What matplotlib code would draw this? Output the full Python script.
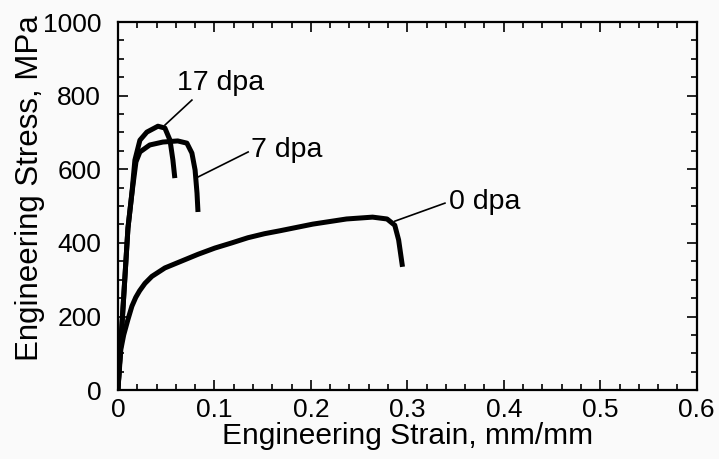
# Engineering stress-strain curves for three irradiation doses.

import matplotlib.pyplot as plt
from matplotlib.ticker import MultipleLocator

# 0 dpa
strain_0 = [0, 0.003, 0.006, 0.0104, 0.0145, 0.0185, 0.0225, 0.028, 0.0352, 0.0487,
            0.0663, 0.083, 0.1005, 0.118, 0.1347, 0.152, 0.168, 0.202, 0.237,
            0.264, 0.279, 0.287, 0.291, 0.295]
stress_0 = [0, 110, 150, 192, 228, 252, 270, 290, 309, 332,
            351, 369, 386, 400, 414, 425, 433, 451, 465,
            470, 465, 448, 408, 335]

# 7 dpa
strain_7 = [0, 0.0104, 0.0145, 0.0187, 0.0228, 0.033, 0.0466, 0.062, 0.0715,
            0.0767, 0.080, 0.082, 0.083]
stress_7 = [0, 440, 535, 620, 647, 666, 674, 677, 671, 644, 598, 535, 484]

# 17 dpa
strain_17 = [0, 0.0104, 0.0145, 0.0176, 0.0228, 0.030, 0.0415, 0.0487, 0.054,
             0.057, 0.059]
stress_17 = [0, 440, 535, 625, 679, 701, 717, 712, 679, 625, 576]

labels = ['0 dpa', '7 dpa', '17 dpa']
leader_start = [(0.287, 459), (0.083, 579), (0.0487, 720)]
leader_end = [(0.339, 508), (0.135, 647), (0.0767, 788)]
label_pos = [(0.343, 511), (0.1375, 652), (0.061, 834)]

plt.rcParams['font.family'] = ['Liberation Sans', 'DejaVu Sans']

def StressStrain():
    fig = plt.figure(figsize=(7.19, 4.59), dpi=100, facecolor='#fafafa')
    ax = fig.add_axes([0.164, 0.150, 0.805, 0.802])
    ax.set_facecolor('#fafafa')

    for x, y in [(strain_0, stress_0), (strain_7, stress_7), (strain_17, stress_17)]:
        ax.plot(x, y, color='black', lw=3.6, solid_capstyle='butt', solid_joinstyle='round')

    for lab, s, e, p in zip(labels, leader_start, leader_end, label_pos):
        ax.plot([s[0], e[0]], [s[1], e[1]], color='black', lw=1.2)
        ax.text(p[0], p[1], lab, fontsize=20.5, ha='left', va='center')

    ax.set_xlim(0, 0.6)
    ax.set_ylim(0, 1000)
    ax.xaxis.set_minor_locator(MultipleLocator(0.02))
    ax.yaxis.set_major_locator(MultipleLocator(200))
    ax.yaxis.set_minor_locator(MultipleLocator(50))
    ax.set_xticks([0, 0.1, 0.2, 0.3, 0.4, 0.5, 0.6])
    ax.set_xticklabels(['0', '0.1', '0.2', '0.3', '0.4', '0.5', '0.6'])
    ax.tick_params(which='both', direction='in', top=True, right=True, labelsize=19, width=1.2)
    ax.tick_params(axis='y', which='major', length=7, pad=12)
    ax.tick_params(axis='x', which='major', length=7, pad=6)
    ax.tick_params(which='minor', length=4)
    for sp in ax.spines.values():
        sp.set_linewidth(1.6)

    ax.set_xlabel('Engineering Strain, mm/mm', fontsize=21.5, labelpad=0)
    ax.set_ylabel('Engineering Stress, MPa', fontsize=22.5)
    ax.yaxis.set_label_coords(-0.126, 0.55)

    fig.savefig('out.png', dpi=100, facecolor=fig.get_facecolor())

def main():
    StressStrain()

if __name__ == "__main__":
    main()
